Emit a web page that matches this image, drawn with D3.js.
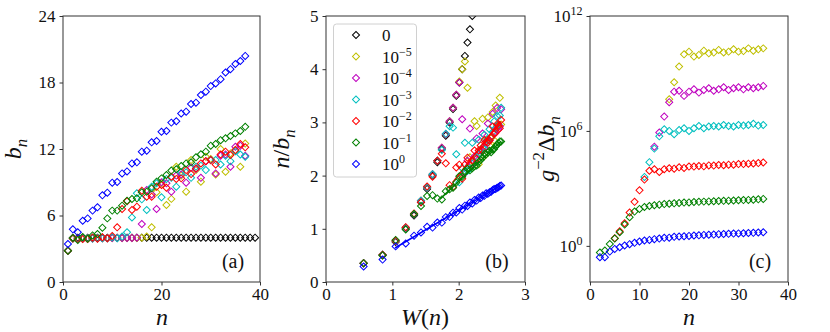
<!DOCTYPE html>
<html>
<head>
<meta charset="utf-8">
<script src="https://cdn.jsdelivr.net/npm/d3@7/dist/d3.min.js"></script>
<style>
  body { margin: 0; background: #fff; }
  svg, text { font-family: "Liberation Serif", "Times New Roman", Times, "Nimbus Roman", "DejaVu Serif", "Noto Serif", serif; }
  .tick line { stroke: #333; }
</style>
</head>
<body>
<svg id="chart" width="830" height="332"></svg>
<script>
// ---- data ----

// n for panels (a) and (b)
var nVals = [1,2,3,4,5,6,7,8,9,10,11,12,13,14,15,16,17,18,19,20,21,22,23,24,25,26,27,28,29,30,31,32,33,34,35,36,37];
var nBlack = [1,2,3,4,5,6,7,8,9,10,11,12,13,14,15,16,17,18,19,20,21,22,23,24,25,26,27,28,29,30,31,32,33,34,35,36,37,38,39];

// W(n) position on the (b) axis for n = 1..37
var wN = [0.567,0.853,1.050,1.202,1.327,1.432,1.524,1.606,1.679,1.746,1.806,1.863,1.915,1.964,2.010,2.053,2.094,2.133,2.170,2.205,2.239,2.271,2.302,2.332,2.360,2.388,2.414,2.440,2.465,2.489,2.513,2.535,2.558,2.579,2.600,2.620,2.640];

// b_n, panel (a)
var bBlack = [2.83,4.00,4.00,4.00,4.00,4.00,4.00,4.00,4.00,4.00,4.00,4.00,4.00,4.00,4.00,4.00,4.00,4.00,4.00,4.00,4.00,4.00,4.00,4.00,4.00,4.00,4.00,4.00,4.00,4.00,4.00,4.00,4.00,4.00,4.00,4.00,4.00,4.00,4.00];
var bYellow = [2.83,3.92,3.90,3.92,3.93,3.93,3.94,3.95,3.95,3.96,3.96,3.97,3.97,3.98,3.98,4.00,4.10,4.93,8.10,8.90,6.95,7.50,10.40,9.60,8.15,11.00,10.10,9.05,11.30,11.10,9.70,12.00,9.95,11.60,11.90,10.40,12.50];
var bMagenta = [2.83,3.92,3.90,3.92,3.93,3.93,3.94,3.95,3.95,3.96,3.96,3.97,3.97,3.98,4.00,5.23,8.30,7.90,6.59,9.00,8.90,8.15,9.60,9.70,8.96,10.30,10.20,9.40,10.90,11.00,9.80,11.40,11.50,10.40,12.20,12.30,11.40];
var bCyan = [2.83,3.92,3.90,3.92,3.93,3.93,3.94,3.95,3.95,4.03,3.95,4.10,4.48,5.83,8.00,7.46,6.50,8.60,8.90,7.64,9.30,9.40,8.60,9.90,9.90,9.40,10.40,10.50,10.10,11.00,11.00,10.60,11.40,10.90,11.80,11.50,11.30];
var bRed = [2.83,3.92,3.88,3.88,3.88,4.00,3.90,4.04,3.95,4.15,4.93,6.59,7.28,6.50,6.80,8.24,7.70,7.70,8.60,8.75,8.50,9.50,9.30,9.35,10.10,9.74,10.25,10.70,10.90,11.00,10.60,11.50,11.76,11.46,11.90,12.45,12.15];
var bGreen = [2.83,3.97,3.79,4.06,3.91,4.20,4.33,4.90,5.74,6.44,6.44,6.89,7.34,7.49,7.55,8.09,8.15,8.45,9.05,9.35,9.65,10.05,10.17,10.47,10.70,10.80,11.25,11.52,11.76,12.30,12.45,12.80,12.96,13.17,13.41,13.62,14.00];
var bBlue = [3.43,4.75,4.48,5.53,5.74,6.44,6.74,7.82,8.06,8.96,9.02,9.80,9.98,10.70,10.80,11.76,11.85,12.60,12.72,13.56,13.62,14.38,14.50,15.20,15.37,16.06,16.18,16.87,17.17,17.68,17.92,18.30,18.90,19.20,19.67,19.94,20.40];

// linear fits drawn in panel (b): red, green, blue
var fitFrom = [1.91, 1.73, 1.04];
var fitTo = [2.63, 2.64, 2.64];
var fitSlope = [1.597, 1.18, 0.7375];
var fitIntercept = [-1.18, -0.47, -0.127];

// log10(g^-2 Δb_n), panel (c), with the first n of each series
var cStart = [null, 16, 13, 11, 5, 2, 2];
var dYellow = [7.65,8.54,9.36,10.00,10.14,9.88,9.97,10.19,10.05,10.09,10.23,10.10,10.14,10.26,10.14,10.17,10.31,10.19,10.26,10.31];
var dMagenta = [5.18,5.92,6.75,7.50,8.05,8.10,7.83,8.05,8.17,8.00,8.14,8.23,8.10,8.17,8.28,8.14,8.23,8.28,8.17,8.28,8.23,8.28,8.35];
var dCyan = [3.60,4.37,5.08,5.72,6.09,6.00,5.83,6.05,6.14,6.00,6.14,6.26,6.14,6.23,6.26,6.23,6.31,6.26,6.23,6.31,6.28,6.31,6.37,6.28,6.31];
var dRed = [0.40,0.76,1.18,1.74,2.30,2.90,3.46,3.92,4.00,3.86,4.00,4.05,4.03,4.10,4.07,4.14,4.14,4.17,4.15,4.20,4.19,4.22,4.21,4.24,4.24,4.27,4.27,4.29,4.30,4.32,4.35];
var dGreen = [-0.35,-0.24,0.10,0.38,0.71,1.11,1.50,1.79,1.93,2.03,2.08,2.12,2.15,2.18,2.20,2.22,2.24,2.26,2.27,2.29,2.30,2.31,2.32,2.33,2.34,2.35,2.36,2.37,2.38,2.39,2.40,2.41,2.43,2.45];
var dBlue = [-0.59,-0.59,-0.30,-0.16,-0.07,0.02,0.09,0.16,0.23,0.28,0.31,0.35,0.38,0.42,0.43,0.47,0.49,0.50,0.52,0.54,0.55,0.57,0.58,0.59,0.61,0.62,0.63,0.64,0.65,0.66,0.67,0.68,0.70,0.71];

// legend: g values
var legendBase = ["0", "10", "10", "10", "10", "10", "10"];
var legendExp = ["", "\u22125", "\u22124", "\u22123", "\u22122", "\u22121", "0"];

// ticks
var aXTicks = [0, 20, 40], aYTicks = [0, 6, 12, 18, 24];
var bXTicks = [0, 1, 2, 3], bYTicks = [0, 1, 2, 3, 4, 5];
var cXTicks = [0, 10, 20, 30, 40], cYTicks = [1, 1e6, 1e12], cYTickExp = ["0", "6", "12"];

// ---- drawing ----
var serif = "\"Liberation Serif\", \"Times New Roman\", Times, \"Nimbus Roman\", \"DejaVu Serif\", \"Noto Serif\", serif";
var colors = ["#000000", "#bfbf00", "#bf00bf", "#00bfbf", "#ff0000", "#008000", "#0000ff"];
var bSeries = [bBlack, bYellow, bMagenta, bCyan, bRed, bGreen, bBlue];
var cSeries = [null, dYellow, dMagenta, dCyan, dRed, dGreen, dBlue];
var fitIndex = [4, 5, 6];

var svg = d3.select("#chart");
var plotTop = 16, plotBottom = 282;
var diamond = d3.symbol().type(d3.symbolSquare).size(25)();

function makePanel(name, left, right, x, y, xTicks, yTicks) {
    x.range([left, right]);
    y.range([plotBottom, plotTop]);

    svg.append("clipPath").attr("id", "clip-" + name)
        .append("rect")
        .attr("x", left).attr("y", plotTop)
        .attr("width", right - left).attr("height", plotBottom - plotTop);

    var xAxis = d3.axisBottom(x).tickValues(xTicks).tickFormat(d3.format("d")).tickSize(3.5).tickPadding(2);
    var yAxis = d3.axisLeft(y).tickValues(yTicks).tickFormat(d3.format("d")).tickSize(3.5).tickPadding(4);

    var gx = svg.append("g").attr("transform", "translate(0," + plotBottom + ")").call(xAxis);
    var gy = svg.append("g").attr("transform", "translate(" + left + ",0)").call(yAxis);
    [gx, gy].forEach(function(g) {
        g.attr("font-family", null).attr("font-size", null);
        g.selectAll(".tick text")
            .style("font-family", serif)
            .style("font-size", "17px")
            .attr("fill", "#111");
        g.select(".domain").remove();
    });

    var marks = svg.append("g").attr("clip-path", "url(#clip-" + name + ")");

    svg.append("rect")
        .attr("x", left).attr("y", plotTop)
        .attr("width", right - left).attr("height", plotBottom - plotTop)
        .attr("fill", "none").attr("stroke", "#333").attr("stroke-width", 1);

    return { marks: marks, yAxisG: gy };
}

function drawDiamonds(g, pts, color) {
    g.append("g").selectAll("path")
        .data(pts)
        .enter().append("path")
        .attr("d", diamond)
        .attr("transform", function(d) { return "translate(" + d[0] + "," + d[1] + ") rotate(45)"; })
        .attr("fill", "none")
        .attr("stroke", color)
        .attr("stroke-width", 1);
}

// rich text with italics, sub- and superscripts
function rich(text, parts, size) {
    var shift = 0;
    parts.forEach(function(p) {
        var s = p.sup ? -0.42 : (p.sub ? 0.25 : 0);
        text.append("tspan")
            .text(p.t)
            .attr("dy", ((s - shift) * size) + "px")
            .style("font-size", ((p.sup || p.sub) ? size * 0.7 : size) + "px")
            .style("font-style", p.i ? "italic" : "normal");
        shift = s;
    });
}

function label(x, y, rotate, parts, size) {
    var t = svg.append("text")
        .attr("text-anchor", "middle")
        .attr("fill", "#111")
        .style("font-family", serif)
        .attr("transform", "translate(" + x + "," + y + ")" + (rotate ? " rotate(-90)" : ""));
    rich(t, parts, size);
    return t;
}

// panel (a)
var xa = d3.scaleLinear().domain([0, 40]);
var ya = d3.scaleLinear().domain([0, 24]);
var pa = makePanel("a", 63, 260, xa, ya, aXTicks, aYTicks);
bSeries.forEach(function(s, k) {
    var ns = k === 0 ? nBlack : nVals;
    drawDiamonds(pa.marks, s.map(function(v, i) { return [xa(ns[i]), ya(v)]; }), colors[k]);
});

// panel (b)
var xb = d3.scaleLinear().domain([0, 3]);
var yb = d3.scaleLinear().domain([0, 5]);
var pb = makePanel("b", 326, 525, xb, yb, bXTicks, bYTicks);
var line = d3.line();
bSeries.forEach(function(s, k) {
    var pts = [];
    wN.forEach(function(w, i) { pts.push([xb(w), yb(nVals[i] / s[i])]); });
    drawDiamonds(pb.marks, pts, colors[k]);
    var f = fitIndex.indexOf(k);
    if (f >= 0) {
        pb.marks.append("path")
            .attr("d", line([
                [xb(fitFrom[f]), yb(fitSlope[f] * fitFrom[f] + fitIntercept[f])],
                [xb(fitTo[f]), yb(fitSlope[f] * fitTo[f] + fitIntercept[f])]
            ]))
            .attr("fill", "none")
            .attr("stroke", colors[k])
            .attr("stroke-width", 1.6);
    }
});

// legend
var legend = svg.append("g");
legend.append("rect")
    .attr("x", 333.5).attr("y", 24).attr("width", 83).attr("height", 153)
    .attr("rx", 3)
    .attr("fill", "#fff").attr("fill-opacity", 0.8)
    .attr("stroke", "#d0d0d0").attr("stroke-width", 1);
legendBase.forEach(function(b, i) {
    var yy = 35 + i * 21.5;
    drawDiamonds(legend, [[356, yy]], colors[i]);
    var t = legend.append("text")
        .attr("x", 382).attr("y", yy + 6)
        .style("font-family", serif)
        .style("font-size", "17px").attr("fill", "#111");
    t.append("tspan").text(b);
    if (legendExp[i]) {
        t.append("tspan").attr("dy", "-7px").style("font-size", "12px").text(legendExp[i]);
    }
});

// panel (c)
var xc = d3.scaleLinear().domain([0, 40]);
var yc = d3.scaleLog().domain([1.3e-2, 1e12]);
var pc = makePanel("c", 590, 788, xc, yc, cXTicks, cYTicks);
pc.yAxisG.selectAll(".tick text")
    .text("10")
    .each(function(d, i) {
        d3.select(this).append("tspan")
            .attr("dy", "-7px")
            .style("font-size", "12px")
            .text(cYTickExp[i]);
    });
cSeries.forEach(function(s, k) {
    if (!s) return;
    drawDiamonds(pc.marks, s.map(function(e, i) {
        return [xc(cStart[k] + i), yc(Math.pow(10, e))];
    }), colors[k]);
});

// axis labels
label(21, 149, true, [{ t: "b", i: true }, { t: "n", i: true, sub: true }], 24);
label(162, 325, false, [{ t: "n", i: true }], 24);
label(289, 149, true, [{ t: "n", i: true }, { t: "/" }, { t: "b", i: true }, { t: "n", i: true, sub: true }], 24);
label(425, 325, false, [{ t: "W", i: true }, { t: "(" }, { t: "n", i: true }, { t: ")" }], 24);
label(554, 149, true, [{ t: "g", i: true }, { t: "\u22122", sup: true }, { t: "\u0394" }, { t: "b", i: true }, { t: "n", i: true, sub: true }], 24);
label(689, 325, false, [{ t: "n", i: true }], 24);

// panel tags
[["(a)", 233], ["(b)", 497], ["(c)", 760]].forEach(function(p) {
    svg.append("text")
        .attr("x", p[1]).attr("y", 268)
        .attr("text-anchor", "middle")
        .style("font-family", serif)
        .style("font-size", "20px").attr("fill", "#111")
        .text(p[0]);
});
</script>
</body>
</html>
